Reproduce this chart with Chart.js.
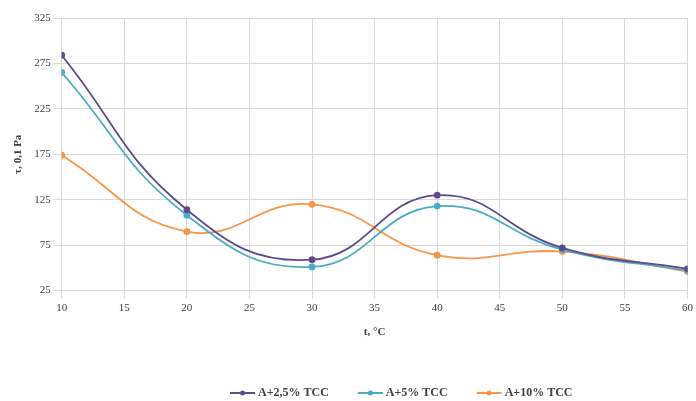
<!DOCTYPE html>
<html>
<head>
<meta charset="utf-8">
<script src="https://cdn.jsdelivr.net/npm/chart.js@4/dist/chart.umd.min.js"></script>
<style>
  html, body { margin: 0; padding: 0; background: #fff; }
  #wrap { width: 696px; height: 401px; }
</style>
</head>
<body>
<div id="wrap"><canvas id="lineChart"></canvas></div>
<script>
// Daten
const temps = [10, 20, 30, 40, 50, 60];
const seriesNames = ['A+2,5% TCC', 'A+5% TCC', 'A+10% TCC'];
const s25 = [284, 114, 59, 130, 72, 49];
const s5 = [265, 108, 51, 118, 70, 47];
const s10 = [174, 90, 120, 64, 68, 46];
const colors = ['#5f4b8b', '#4bacc6', '#f79646'];

const fontFam = '"Liberation Serif", "Times New Roman", serif';

function toPoints(vals) {
  return temps.map((t, i) => ({ x: t, y: vals[i] }));
}

const datasets = [s25, s5, s10].map((vals, i) => ({
  label: seriesNames[i],
  data: toPoints(vals),
  borderColor: colors[i],
  backgroundColor: colors[i],
  borderWidth: 1.8,
  pointRadius: 2.5,
  pointHoverRadius: 2.5,
  tension: 0.45,
  fill: false
}));

// eigene Legende unten (Linie mit Punkt, wie in Excel)
const bottomLegend = {
  id: 'bottomLegend',
  afterDraw(chart) {
    const c = chart.ctx;
    c.save();
    c.font = 'bold 12px ' + fontFam;
    c.textBaseline = 'middle';
    const y = 393;
    let x = 230;
    chart.data.datasets.forEach((ds, i) => {
      c.strokeStyle = ds.borderColor;
      c.lineWidth = 2;
      c.beginPath();
      c.moveTo(x, y);
      c.lineTo(x + 25, y);
      c.stroke();
      c.fillStyle = ds.borderColor;
      c.beginPath();
      c.arc(x + 12.5, y, 2.5, 0, Math.PI * 2);
      c.fill();
      c.fillStyle = '#404040';
      c.fillText(ds.label, x + 28, y);
      x += 28 + c.measureText(ds.label).width + 29;
    });
    c.restore();
  }
};

const ctx = document.getElementById('lineChart').getContext('2d');
new Chart(ctx, {
  type: 'line',
  data: { datasets },
  plugins: [bottomLegend],
  options: {
    responsive: true,
    maintainAspectRatio: false,
    animation: false,
    layout: { padding: { left: 8, right: 5, top: 18, bottom: 62 } },
    plugins: {
      legend: { display: false },
      tooltip: { enabled: false }
    },
    scales: {
      x: {
        type: 'linear',
        min: 10,
        max: 60,
        ticks: { stepSize: 5, font: { family: fontFam, size: 11 }, color: '#404040' },
        grid: { color: '#d9d9d9' },
        border: { color: '#d9d9d9' },
        title: {
          display: true,
          text: 't, °C',
          font: { family: fontFam, size: 11, weight: 'bold' },
          color: '#404040',
          padding: { top: 8, bottom: 0 }
        }
      },
      y: {
        min: 25,
        max: 325,
        ticks: { stepSize: 50, font: { family: fontFam, size: 11 }, color: '#404040' },
        grid: { color: '#d9d9d9' },
        border: { color: '#d9d9d9' },
        title: {
          display: true,
          text: 'τ, 0,1 Pa',
          font: { family: fontFam, size: 11, weight: 'bold' },
          color: '#404040',
          padding: { bottom: 6 }
        }
      }
    }
  }
});
</script>
</body>
</html>
